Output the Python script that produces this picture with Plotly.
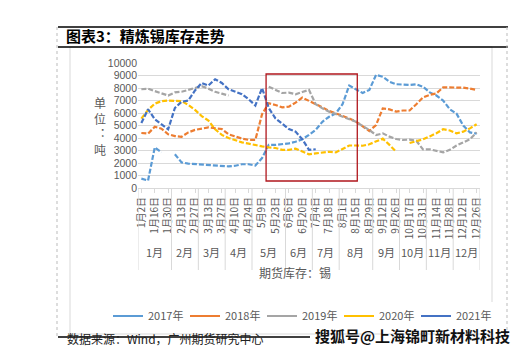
import plotly.graph_objects as go

# ---------------- data ----------------
dates = ["1月2日","1月9日","1月16日","1月23日","1月30日","2月6日","2月13日","2月20日","2月27日",
         "3月6日","3月13日","3月20日","3月27日","4月3日","4月10日","4月17日","4月24日","5月2日",
         "5月9日","5月16日","5月23日","5月30日","6月6日","6月13日","6月20日","6月27日","7月4日",
         "7月11日","7月18日","7月25日","8月1日","8月8日","8月15日","8月22日","8月29日","9月5日",
         "9月12日","9月19日","9月26日","10月10日","10月17日","10月24日","10月31日","11月7日",
         "11月14日","11月21日","11月28日","12月5日","12月12日","12月19日","12月26日"]
months = ["1月","2月","3月","4月","5月","6月","7月","8月","9月","10月","11月","12月"]
month_weeks = [5,4,4,4,5,4,4,5,4,4,4,4]

y2017 = [750,600,3250,2850,None,2700,2050,1950,1920,1870,1810,1790,1750,1730,1780,1900,1900,1800,
         2400,3450,3450,3500,3570,3700,3900,4250,4650,5300,5700,5970,6700,8200,7900,7600,7850,9050,
         8900,8500,8300,8250,8250,8300,8100,7650,7400,7000,6300,5950,5000,4450,4350]
y2018 = [4400,4350,4900,4750,4300,4150,4100,4450,4650,4780,4850,4780,4720,4300,4100,3950,3850,3850,
         5900,6780,6640,6450,6510,6830,7230,6990,6720,6450,6160,5970,5760,5570,5310,4910,4560,5040,
         6370,6290,6110,6200,6200,6700,7250,7450,7570,8050,8050,8000,8030,7950,7840]
y2019 = [7900,7950,7750,7600,7400,7650,7700,7850,8000,8150,7950,7700,7550,7400,None,None,None,None,
         None,8100,7850,7600,7630,7500,7680,7850,6700,6370,6110,5920,5710,5490,5310,4960,4640,4240,
         4370,4110,3920,3840,3870,3780,3090,3100,3000,2850,3050,3400,3650,3900,4450]
y2020 = [5550,6250,6750,6950,7000,6980,6950,6650,6250,5750,5400,4700,4250,4000,3800,3650,3550,3420,
         3330,3250,3200,3050,3050,3150,2950,2700,2770,2850,2900,2850,3150,3400,3400,3380,3500,3700,
         3950,3450,2900,None,3600,3760,3890,4130,4380,4700,4600,4370,4510,4770,5100]
y2021 = [5200,6300,5500,5100,4700,6400,6900,7000,7800,8400,8200,8700,8400,7900,7700,7500,7100,6600,
         8000,6400,5570,5170,4720,4510,3900,3050,3100] + [None]*24

years = ["2017年","2018年","2019年","2020年","2021年"]
series = [y2017, y2018, y2019, y2020, y2021]
colors = ["#5B9BD5","#ED7D31","#A5A5A5","#FFC000","#4472C4"]

# ---------------- layout geometry ----------------
W, H = 523, 364
L, R, T, B = 138, 480, 63, 188          # plot area in pixels
def px(x): return (x - L) / (R - L)
def py(y): return (B - y) / (B - T)

FONT = "Noto Sans CJK SC"
NUMFONT = "Liberation Sans, Arial, sans-serif"
GRAY = "#595959"

fig = go.Figure()
for name, ys, c in zip(years, series, colors):
    fig.add_trace(go.Scatter(x=dates, y=ys, mode="lines", name=name, showlegend=False,
                             line=dict(color=c, width=2.2, dash="5px,2px"), connectgaps=False))
# legend entries (solid swatches, as in the original)
for name, c in zip(years, colors):
    fig.add_trace(go.Scatter(x=[None], y=[None], mode="lines", name=name,
                             line=dict(color=c, width=2.2)))

shapes = []
# month separators on category axis
b = -0.5
shapes.append(dict(type="line", xref="x", yref="paper", x0=b, x1=b, y0=0, y1=py(270),
                   line=dict(color="#D9D9D9", width=1)))
for n in month_weeks:
    b += n
    shapes.append(dict(type="line", xref="x", yref="paper", x0=b, x1=b, y0=0, y1=py(270),
                       line=dict(color="#D9D9D9", width=1)))
# red highlight box
shapes.append(dict(type="rect", xref="x", yref="y", x0=18.6, x1=32.2, y0=560, y1=9120,
                   line=dict(color="#B0161C", width=1.3)))
# document frame
shapes += [
    dict(type="rect", xref="paper", yref="paper", x0=px(70), x1=px(492), y0=py(47), y1=py(334),
         line=dict(color="#D9D9D9", width=1)),
    dict(type="line", xref="paper", yref="paper", x0=px(58), x1=px(508), y0=py(27), y1=py(27),
         line=dict(color="black", width=1.5)),
    dict(type="line", xref="paper", yref="paper", x0=px(58), x1=px(508), y0=py(47), y1=py(47),
         line=dict(color="black", width=1.5)),
    dict(type="line", xref="paper", yref="paper", x0=px(58), x1=px(310), y0=py(337), y1=py(337),
         line=dict(color="black", width=1.5)),
    dict(type="line", xref="paper", yref="paper", x0=px(57), x1=px(57), y0=py(27), y1=py(337),
         line=dict(color="#BBBBBB", width=1, dash="dot")),
    dict(type="line", xref="paper", yref="paper", x0=px(507), x1=px(507), y0=py(27), y1=py(337),
         line=dict(color="#BBBBBB", width=1, dash="dot")),
]

annotations = []
# month labels
start = 0
for m, n in zip(months, month_weeks):
    annotations.append(dict(x=start + (n - 1) / 2, y=py(262), xref="x", yref="paper", text=m,
                            showarrow=False, font=dict(family=FONT, size=11, color=GRAY)))
    start += n
annotations += [
    dict(x=px(92), y=py(126), xref="paper", yref="paper", text="单<br>位<br>︓<br>吨",
         showarrow=False, font=dict(family=FONT, size=12, color=GRAY)),
    dict(x=px(295), y=py(283), xref="paper", yref="paper", text="期货库存：锡",
         showarrow=False, font=dict(family=FONT, size=12, color=GRAY)),
    dict(x=px(65), y=py(349), xref="paper", yref="paper", text="数据来源：Wind，广州期货研究中心",
         xanchor="left", showarrow=False, font=dict(family=FONT, size=12, color="#222222")),
    dict(x=px(512), y=py(348), xref="paper", yref="paper", text="搜狐号@上海锦町新材料科技",
         xanchor="right", showarrow=False,
         font=dict(family=FONT, size=15, color="#111111", weight="bold")),
]

fig.update_layout(
    width=W, height=H,
    margin=dict(l=L, r=W - R, t=T, b=H - B, autoexpand=False),
    paper_bgcolor="white", plot_bgcolor="white",
    title=dict(text="图表3：精炼锡库存走势", xref="container", yref="container",
               x=66 / W, y=1 - 37 / H, xanchor="left", yanchor="middle",
               font=dict(family=FONT, size=15, color="black", weight="bold")),
    xaxis=dict(type="category", categoryorder="array", categoryarray=dates,
               range=[-0.5, len(dates) - 0.5],
               tickvals=dates[::2], ticktext=dates[::2], tickangle=-90,
               tickfont=dict(family=FONT, size=10, color=GRAY),
               showgrid=False, showline=True, linecolor="#D9D9D9",
               ticks="outside", ticklen=4, tickcolor="#D9D9D9", automargin=False),
    yaxis=dict(range=[0, 10000], dtick=1000, tickformat="d",
               tickfont=dict(family=NUMFONT, size=10.5, color=GRAY),
               gridcolor="#D9D9D9", gridwidth=1, zeroline=False, showline=False,
               automargin=False),
    legend=dict(orientation="h", x=px(108), xanchor="left", y=py(316), yanchor="middle",
                entrywidth=32, entrywidthmode="pixels",
                font=dict(family=FONT, size=11, color=GRAY)),
    shapes=shapes, annotations=annotations,
)

fig.write_html("out.html", config={"displayModeBar": False},
               post_script="document.body.style.margin='0px';")
